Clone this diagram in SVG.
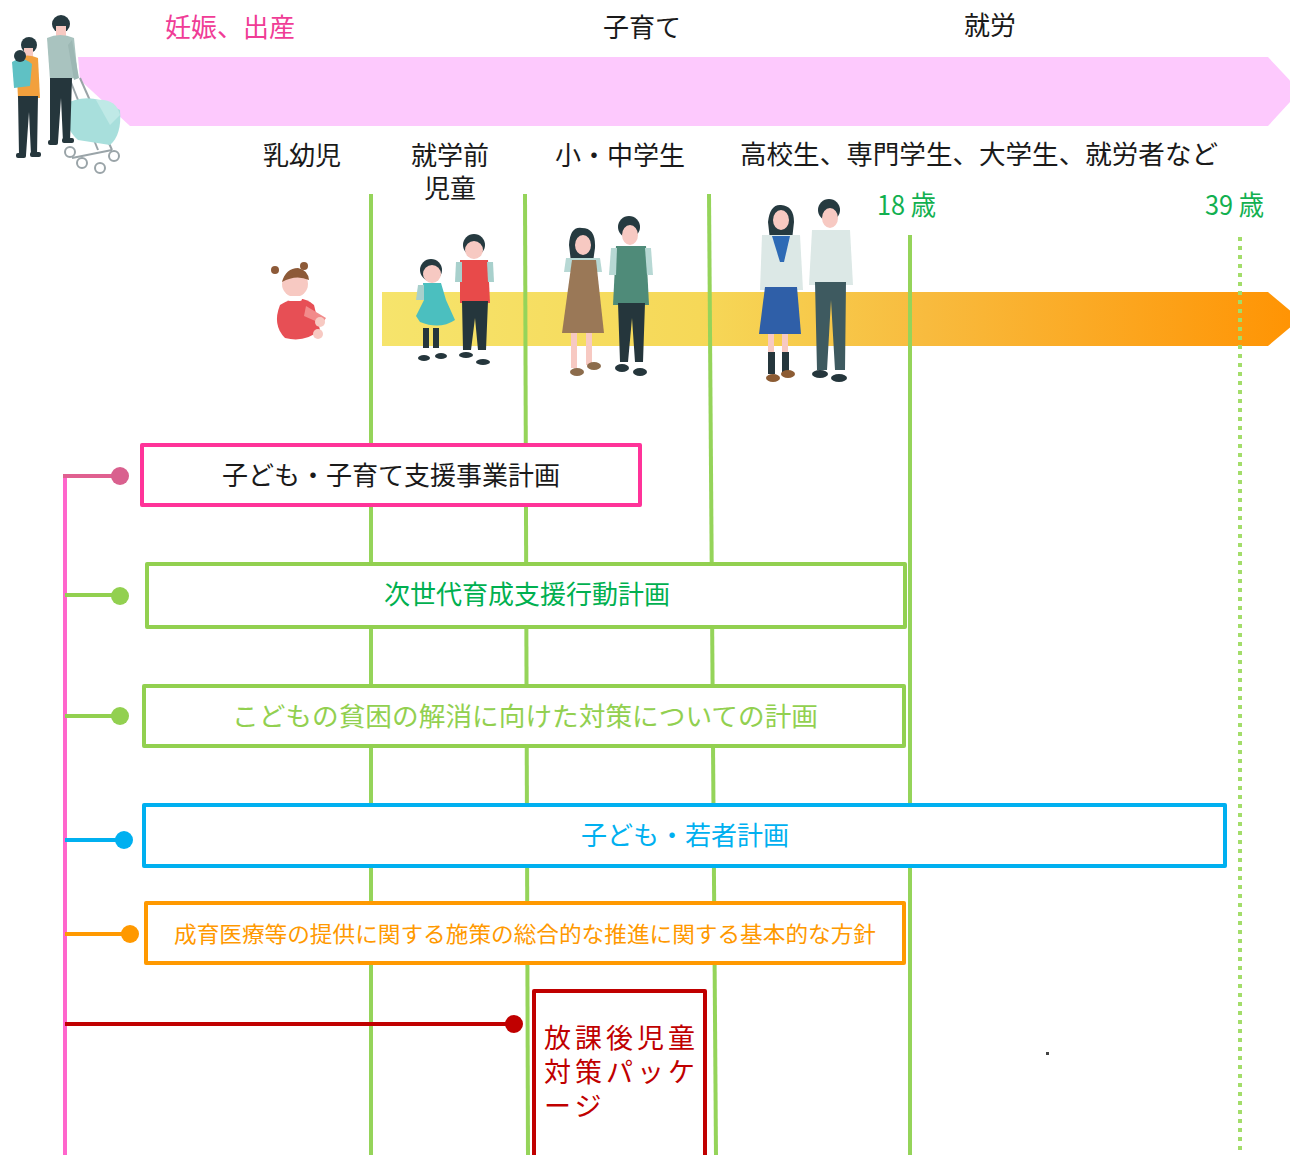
<svg xmlns="http://www.w3.org/2000/svg" width="1290" height="1155" viewBox="0 0 1290 1155">
  <style>
    text { font-family: "Noto Sans CJK JP", "Noto Sans", sans-serif; }
    .hdr { font-size: 26px; fill: #1a1a1a; text-anchor: middle; }
    .age { font-size: 27px; fill: #12b050; }
    .box { fill: #ffffff; stroke-width: 4; stroke-linejoin: round; }
    .lbl { font-size: 26px; text-anchor: middle; }
    .stage { stroke: #95d45a; stroke-width: 4; fill: none; }
    .hair { fill: #263a40; }
    .skin { fill: #f7c9c2; }
    .pants { fill: #25363c; }
  </style>
  <defs>
    <linearGradient id="growth" x1="382" y1="0" x2="1290" y2="0" gradientUnits="userSpaceOnUse">
      <stop offset="0" stop-color="#f6e46c"/>
      <stop offset="0.35" stop-color="#f6d858"/>
      <stop offset="0.6" stop-color="#f8bb3e"/>
      <stop offset="1" stop-color="#ff9404"/>
    </linearGradient>
  </defs>

  <rect width="1290" height="1155" fill="#ffffff"/>

  <!-- life-stage band -->
  <polygon points="78,57 1268,57 1300,91 1268,126 130,126 80,80" fill="#fdc9fd"/>
  <text x="230" y="37" font-size="26" fill="#f03c96" text-anchor="middle">妊娠、出産</text>
  <text x="642" y="37" class="hdr">子育て</text>
  <text x="990" y="35" class="hdr">就労</text>

  <!-- age group labels -->
  <text x="302" y="165" class="hdr">乳幼児</text>
  <text x="450" y="165" class="hdr">就学前</text>
  <text x="450" y="198" class="hdr">児童</text>
  <text x="620" y="165" class="hdr">小・中学生</text>
  <text x="979" y="164" class="hdr" textLength="478" lengthAdjust="spacingAndGlyphs">高校生、専門学生、大学生、就労者など</text>
  <text x="877" y="215" class="age" textLength="59" lengthAdjust="spacingAndGlyphs">18 歳</text>
  <text x="1205" y="215" class="age" textLength="59" lengthAdjust="spacingAndGlyphs">39 歳</text>

  <!-- growth arrow -->
  <polygon points="382,292 1268,292 1300,319 1268,346 382,346" fill="url(#growth)"/>

  <!-- stage dividers -->
  <g id="dividers">
    <line class="stage" x1="371" y1="194" x2="371" y2="1155"/>
    <line class="stage" x1="525" y1="194" x2="528" y2="1155"/>
    <line class="stage" x1="709" y1="194" x2="716" y2="1155"/>
    <line class="stage" x1="910" y1="235" x2="910" y2="1155"/>
    <line x1="1240" y1="237" x2="1240" y2="1155" stroke="#a3dd6a" stroke-width="4" stroke-dasharray="4 5"/>
  </g>

  <!-- family with stroller -->
  <g id="family">
    <!-- stroller -->
    <g fill="none" stroke="#9aa4a8" stroke-width="2">
      <line x1="70" y1="80" x2="98" y2="150"/>
      <line x1="80" y1="78" x2="112" y2="150"/>
      <line x1="72" y1="158" x2="112" y2="150"/>
      <circle cx="70" cy="152" r="5"/>
      <circle cx="82" cy="163" r="5"/>
      <circle cx="100" cy="168" r="5"/>
      <circle cx="114" cy="156" r="5"/>
    </g>
    <path d="M64,105 Q80,95 100,100 L120,110 Q122,135 110,145 L78,140 Q64,128 64,105 Z" fill="#a8dfdc"/>
    <path d="M96,100 Q116,98 120,115 L110,125 Z" fill="#bfe9e6"/>
    <!-- father -->
    <circle cx="61" cy="24" r="9" class="hair"/>
    <rect x="56" y="26" width="10" height="11" class="skin"/>
    <path d="M47,38 Q60,32 74,38 L78,78 L50,80 Z" fill="#a9c3bf"/>
    <path d="M72,40 L79,78 L74,80 L68,45 Z" fill="#9db8b4"/>
    <path d="M50,78 L72,78 L70,142 L63,142 L61,98 L58,142 L50,142 Z" class="pants"/>
    <rect x="48" y="140" width="10" height="5" rx="2" class="pants"/>
    <rect x="62" y="138" width="12" height="5" rx="2" class="pants"/>
    <!-- mother and baby -->
    <circle cx="29" cy="45" r="8" class="hair"/>
    <rect x="24" y="48" width="9" height="9" class="skin"/>
    <path d="M16,58 Q28,53 38,58 L40,98 L18,98 Z" fill="#f2a03d"/>
    <path d="M12,62 Q22,55 32,64 L30,86 L14,88 Z" fill="#5fc1c4"/>
    <circle cx="20" cy="56" r="6" class="hair"/>
    <path d="M18,96 L38,96 L37,155 L31,155 L29,112 L26,155 L19,155 Z" class="pants"/>
    <rect x="16" y="153" width="10" height="5" rx="2" class="pants"/>
    <rect x="30" y="152" width="11" height="5" rx="2" class="pants"/>
  </g>

  <!-- infant -->
  <g id="infant">
    <path d="M280,305 Q300,292 314,305 L320,330 Q305,343 285,338 Q272,325 280,305 Z" fill="#e74f55"/>
    <path d="M306,306 L326,318 L322,324 L304,316 Z" fill="#f28b8b"/>
    <circle cx="320" cy="322" r="5" class="skin"/>
    <circle cx="318" cy="334" r="5" class="skin"/>
    <circle cx="295" cy="284" r="13" class="skin"/>
    <path d="M282,282 Q286,268 298,268 Q308,270 309,280 Q296,274 282,282 Z" fill="#8d5a38"/>
    <circle cx="275" cy="270" r="4" fill="#8d5a38"/>
    <circle cx="304" cy="266" r="4" fill="#8d5a38"/>
    <rect x="288" y="296" width="14" height="5" rx="2" fill="#ffffff"/>
  </g>

  <!-- preschool children -->
  <g id="preschoolers">
    <circle cx="431" cy="270" r="11" class="hair"/>
    <circle cx="432" cy="274" r="9" class="skin"/>
    <path d="M423,283 L441,283 L446,300 L455,320 Q440,330 420,322 L416,316 L424,300 Z" fill="#4bbfbf"/>
    <path d="M418,285 L424,285 L424,300 L416,300 Z" fill="#a8d0cc"/>
    <rect x="423" y="328" width="6" height="20" class="pants"/>
    <rect x="433" y="328" width="6" height="20" class="pants"/>
    <ellipse cx="424" cy="358" rx="6" ry="3" class="pants"/>
    <ellipse cx="441" cy="356" rx="6" ry="3" class="pants"/>
    <circle cx="474" cy="245" r="11" class="hair"/>
    <circle cx="474" cy="250" r="9" class="skin"/>
    <path d="M460,260 L488,260 L490,303 L460,303 Z" fill="#e84a4a"/>
    <path d="M456,262 L462,262 L462,282 L455,282 Z" fill="#a8d0cc"/>
    <path d="M487,262 L493,262 L494,282 L488,282 Z" fill="#a8d0cc"/>
    <path d="M462,301 L488,301 L486,350 L478,350 L475,318 L471,350 L463,350 Z" class="pants"/>
    <ellipse cx="466" cy="355" rx="7" ry="3" class="pants"/>
    <ellipse cx="483" cy="362" rx="7" ry="3" class="pants"/>
  </g>

  <!-- primary and junior high pupils -->
  <g id="pupils">
    <path d="M569,245 Q570,226 582,228 Q596,228 595,248 L593,262 L571,262 Z" class="hair"/>
    <ellipse cx="583" cy="245" rx="8" ry="10" class="skin"/>
    <path d="M566,258 L600,258 L602,272 L564,272 Z" fill="#b7d8d4"/>
    <path d="M572,260 L596,260 L604,333 L562,333 Z" fill="#9a7857"/>
    <rect x="571" y="333" width="6" height="35" class="skin"/>
    <rect x="586" y="333" width="6" height="32" class="skin"/>
    <ellipse cx="577" cy="372" rx="7" ry="4" fill="#8c6c4c"/>
    <ellipse cx="594" cy="366" rx="7" ry="4" fill="#8c6c4c"/>
    <circle cx="629" cy="227" r="11" class="hair"/>
    <ellipse cx="630" cy="235" rx="8" ry="10" class="skin"/>
    <path d="M616,246 L646,246 L649,305 L613,305 Z" fill="#4f8b79"/>
    <path d="M611,248 L617,248 L616,275 L609,275 Z" fill="#b7d8d4"/>
    <path d="M645,248 L651,248 L653,275 L647,275 Z" fill="#b7d8d4"/>
    <path d="M618,303 L645,303 L643,362 L635,362 L632,318 L628,362 L620,362 Z" class="pants"/>
    <ellipse cx="622" cy="368" rx="7" ry="4" class="pants"/>
    <ellipse cx="640" cy="372" rx="7" ry="4" class="pants"/>
  </g>

  <!-- high school students -->
  <g id="students">
    <path d="M768,222 Q770,204 781,205 Q794,206 794,222 L792,240 L770,240 Z" class="hair"/>
    <ellipse cx="781" cy="220" rx="8" ry="10" class="skin"/>
    <path d="M762,235 L800,235 L803,290 L760,290 Z" fill="#dce8e6"/>
    <path d="M772,236 L790,236 L784,262 L780,262 Z" fill="#2e6ab5"/>
    <path d="M765,287 L797,287 L801,334 L759,334 Z" fill="#2f5fa8"/>
    <rect x="768" y="334" width="6" height="20" class="skin"/>
    <rect x="782" y="334" width="6" height="20" class="skin"/>
    <rect x="768" y="352" width="7" height="22" class="pants"/>
    <rect x="782" y="352" width="7" height="20" class="pants"/>
    <ellipse cx="773" cy="378" rx="7" ry="4" fill="#8c5c34"/>
    <ellipse cx="788" cy="374" rx="7" ry="4" fill="#8c5c34"/>
    <circle cx="829" cy="210" r="11" class="hair"/>
    <ellipse cx="830" cy="218" rx="8" ry="10" class="skin"/>
    <path d="M812,230 L850,230 L853,285 L809,285 Z" fill="#dce8e6"/>
    <path d="M815,282 L846,282 L845,370 L835,370 L831,300 L827,370 L817,370 Z" fill="#3e5a60"/>
    <ellipse cx="820" cy="374" rx="8" ry="4" class="pants"/>
    <ellipse cx="839" cy="378" rx="8" ry="4" class="pants"/>
  </g>

  <!-- connectors from the spine to each plan -->
  <g id="connectors">
    <line x1="65" y1="476" x2="65" y2="1155" stroke="#ff66cc" stroke-width="4"/>
    <line x1="63" y1="476" x2="120" y2="476" stroke="#e06090" stroke-width="4"/>
    <circle cx="120" cy="476" r="9" fill="#d9608e"/>
    <line x1="65" y1="595" x2="120" y2="595" stroke="#92d050" stroke-width="4"/>
    <circle cx="120" cy="596" r="9" fill="#92d050"/>
    <line x1="65" y1="716" x2="120" y2="716" stroke="#92d050" stroke-width="4"/>
    <circle cx="120" cy="716" r="9" fill="#92d050"/>
    <line x1="65" y1="840" x2="124" y2="840" stroke="#00b0f0" stroke-width="4"/>
    <circle cx="124" cy="840" r="9" fill="#00b0f0"/>
    <line x1="65" y1="934" x2="130" y2="934" stroke="#ff9900" stroke-width="4"/>
    <circle cx="130" cy="934" r="9" fill="#ff9900"/>
    <line x1="65" y1="1024" x2="514" y2="1024" stroke="#c00000" stroke-width="4"/>
    <circle cx="514" cy="1024" r="9" fill="#c00000"/>
  </g>

  <!-- plans -->
  <g id="plan-kodomo-kosodate">
    <rect class="box" x="142" y="445" width="498" height="60" stroke="#ff3399"/>
    <text class="lbl" x="391" y="485" fill="#1a1a1a">子ども・子育て支援事業計画</text>
  </g>
  <g id="plan-jisedai">
    <rect class="box" x="147" y="564" width="758" height="63" stroke="#92d050"/>
    <text class="lbl" x="527" y="604" fill="#00b050">次世代育成支援行動計画</text>
  </g>
  <g id="plan-hinkon">
    <rect class="box" x="144" y="686" width="760" height="60" stroke="#92d050"/>
    <text class="lbl" x="525" y="726" fill="#92d050" textLength="586" lengthAdjust="spacingAndGlyphs">こどもの貧困の解消に向けた対策についての計画</text>
  </g>
  <g id="plan-wakamono">
    <rect class="box" x="144" y="805" width="1081" height="61" stroke="#00b0f0"/>
    <text class="lbl" x="685" y="845" fill="#00b0f0">子ども・若者計画</text>
  </g>
  <g id="plan-seiiku">
    <rect class="box" x="146" y="903" width="758" height="60" stroke="#ff9900"/>
    <text x="525" y="942" font-size="22" fill="#ff9900" text-anchor="middle" textLength="702" lengthAdjust="spacingAndGlyphs">成育医療等の提供に関する施策の総合的な推進に関する基本的な方針</text>
  </g>
  <g id="plan-houkago">
    <rect class="box" x="534" y="991" width="171" height="180" stroke="#c00000"/>
    <g font-size="27" fill="#c00000" letter-spacing="4">
      <text x="544" y="1048">放課後児童</text>
      <text x="544" y="1082">対策パッケ</text>
      <text x="544" y="1116">ージ</text>
    </g>
  </g>

  <rect x="1046" y="1052" width="3" height="3" fill="#444444"/>
</svg>
